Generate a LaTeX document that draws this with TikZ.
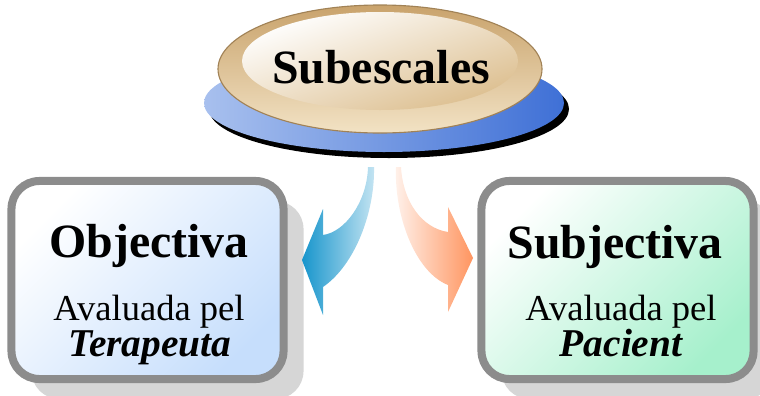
\documentclass[tikz,border=0pt]{standalone}
\usepackage{fontspec}
\setmainfont{Liberation Serif}
\usetikzlibrary{shadows}

\definecolor{blaufosc}{HTML}{3F70D6}
\definecolor{blauclar}{HTML}{A8C0EE}
\definecolor{marro}{HTML}{C9A36C}
\definecolor{marroclar}{HTML}{F2E2C4}
\definecolor{crema}{HTML}{DCBE8E}
\definecolor{voragris}{HTML}{8C8C8C}
\definecolor{ombra}{HTML}{D6D6D6}
\definecolor{celeste}{HTML}{C6DEFC}
\definecolor{menta}{HTML}{A6F0CC}
\definecolor{fletxablau}{HTML}{1795CC}
\definecolor{fletxataronja}{HTML}{FF9560}

\begin{document}
\begin{tikzpicture}[x=0.025cm, y=-0.025cm,
    caixa/.style={draw=voragris, line width=5.7pt, rounded corners=0.7cm,
      minimum width=6.8cm, minimum height=4.95cm,
      general shadow={fill=ombra, shadow xshift=0.5cm, shadow yshift=-0.5cm}},
    titol/.style={anchor=base, font=\fontsize{34}{40}\selectfont\bfseries},
    aval/.style={anchor=base, font=\fontsize{26}{30}\selectfont},
    qui/.style={anchor=base, font=\fontsize{28}{32}\selectfont\bfseries\itshape}]
  \useasboundingbox (0,0) rectangle (760,395);
  \clip (0,0) rectangle (760,395);

  % El·lipse blava amb ombra negra
  \fill[black] (389,109) ellipse [x radius=180, y radius=49];
  \shade[left color=blauclar, right color=blaufosc] (384,103) ellipse [x radius=180, y radius=49];

  % El·lipse daurada
  \shade[top color=marro, bottom color=marroclar, draw=marro!80!black, line width=0.8pt]
    (380,69) ellipse [x radius=162, y radius=64];
  \shade[top color=white, bottom color=crema, shading angle=20]
    (380,61) ellipse [x radius=138, y radius=49];
  \node[titol] (sub) at (381,83) {Subescales};

  % Caixes
  \node[caixa, top color=white, bottom color=celeste, shading angle=45] (obj) at (147.5,280) {};
  \node[caixa, top color=white, bottom color=menta, shading angle=45] (subj) at (617.5,280) {};

  % Textos de les caixes
  \node[titol] (objt) at (149,257) {Objectiva};
  \node[aval] (obja) at (149,320) {Avaluada pel};
  \node[qui] (objq) at (150,356) {Terapeuta};
  \node[titol] (subjt) at (615,258) {Subjectiva};
  \node[aval] (subja) at (621,320) {Avaluada pel};
  \node[qui] (subjq) at (621,356) {Pacient};

  % Fletxa blava
  \shade[left color=fletxablau, right color=fletxablau!25]
    (368,167) .. controls (367,202) and (345,232) .. (323,235) -- (323,209) -- (302,260)
    -- (323,315) -- (323,287) .. controls (355,265) and (375,212) .. (374,167) -- cycle;

  % Fletxa taronja
  \shade[left color=fletxataronja!12, right color=fletxataronja]
    (396,167) .. controls (394,215) and (415,272) .. (448,285) -- (448,312) -- (473,258)
    -- (448,207) -- (448,232) .. controls (422,228) and (403,202) .. (401,167) -- cycle;
\end{tikzpicture}
\end{document}
